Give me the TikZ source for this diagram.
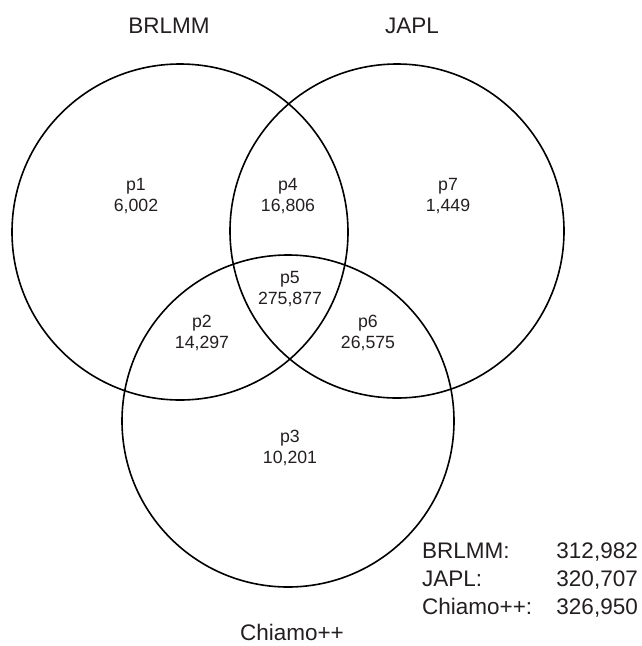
\documentclass[tikz,border=0pt]{standalone}
\usepackage{fontspec}
\setmainfont{Liberation Sans}
\definecolor{ink}{HTML}{231F20}
\begin{document}
\begin{tikzpicture}[x=1pt,y=-1pt,
  setcircle/.style={draw=black,line width=1.6pt},
  region/.style={align=center,text=ink,inner sep=0pt,font=\fontsize{17.7}{21}\selectfont},
  bigtext/.style={text=ink,inner sep=0pt,font=\fontsize{22.5}{27}\selectfont},
]
\useasboundingbox (0,0) rectangle (641,646);
% circles
\draw[setcircle] (180,232) circle[radius=168];
\draw[setcircle] (397,231) circle[radius=167];
\draw[setcircle] (288,421) circle[radius=166];
% set titles
\node[bigtext,anchor=base] (tB) at (169,33) {BRLMM};
\node[bigtext,anchor=base] (tJ) at (412,33) {JAPL};
\node[bigtext,anchor=base] (tC) at (292,640) {Chiamo++};
% regions
\node[region] (p1) at (136,196.5) {p1\\6,002};
\node[region] (p4) at (288,196.5) {p4\\16,806};
\node[region] (p7) at (448,196.5) {p7\\1,449};
\node[region] (p5) at (290,289.5) {p5\\275,877};
\node[region] (p2) at (202,333) {p2\\14,297};
\node[region] (p6) at (368,333) {p6\\26,575};
\node[region] (p3) at (290,448) {p3\\10,201};
% legend
\node[bigtext,anchor=base west] (lB) at (422,558) {BRLMM:};
\node[bigtext,anchor=base west] (lJ) at (422,586) {JAPL:};
\node[bigtext,anchor=base west] (lC) at (422,614) {Chiamo++:};
\node[bigtext,anchor=base east] (nB) at (638,558) {312,982};
\node[bigtext,anchor=base east] (nJ) at (638,586) {320,707};
\node[bigtext,anchor=base east] (nC) at (638,614) {326,950};
\end{tikzpicture}
\end{document}
